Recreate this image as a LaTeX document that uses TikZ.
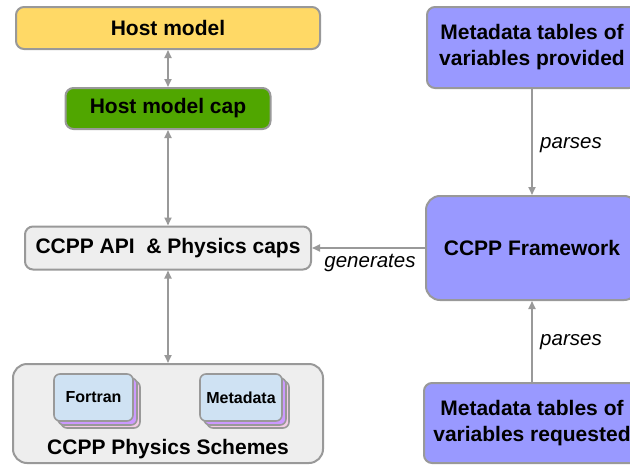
\documentclass[tikz,border=0pt]{standalone}
\usepackage{fontspec}
\setmainfont{Liberation Sans}
\usetikzlibrary{arrows.meta}
\definecolor{bordergray}{HTML}{999999}
\definecolor{hostyellow}{HTML}{FFD966}
\definecolor{capgreen}{RGB}{80,166,0}
\definecolor{fwpurple}{HTML}{9999FF}
\definecolor{boxgray}{HTML}{EEEEEE}
\definecolor{fileblue}{HTML}{CFE2F3}
\definecolor{layerpurple}{HTML}{CC99FF}
\definecolor{layerpink}{HTML}{F4CCE6}
\tikzset{
  box/.style={draw=bordergray, line width=2pt, rounded corners=8pt, align=center,
    font=\fontsize{21}{26}\selectfont\bfseries, inner sep=0pt},
  bigbox/.style={box, rounded corners=14pt},
  filebox/.style={draw=bordergray, line width=1.6pt, rounded corners=6pt, inner sep=0pt,
    font=\fontsize{16}{19}\selectfont\bfseries},
  conn/.style={draw=bordergray, line width=1.7pt, -{Triangle[length=8pt,width=7pt]}},
  biconn/.style={draw=bordergray, line width=1.7pt, {Triangle[length=8pt,width=7pt]}-{Triangle[length=8pt,width=7pt]}},
  edgelabel/.style={font=\fontsize{20.5}{24}\selectfont\itshape, inner sep=0pt}
}
\begin{document}
\begin{tikzpicture}[x=1pt,y=-1pt]
\clip (0,0) rectangle (630,466);
\fill[white] (0,0) rectangle (630,466);
% left column
\node[box, fill=hostyellow, minimum width=304pt, minimum height=42pt] (host) at (168,28) {Host model};
\node[box, fill=capgreen, minimum width=205pt, minimum height=41pt] (cap) at (168,108.5) {Host model cap};
\node[box, fill=boxgray, minimum width=286pt, minimum height=43pt] (api) at (168,248) {CCPP API~~\& Physics caps};
\node[box, rounded corners=14pt, fill=boxgray, minimum width=310pt, minimum height=99pt] (schemes) at (168,413.5) {};
\node[font=\fontsize{21}{24}\selectfont\bfseries, inner sep=0pt] (schemeslabel) at (168,449) {CCPP Physics Schemes};
% file stacks
\node[filebox, fill=layerpink, minimum width=79pt, minimum height=47pt] (fpink) at (100.5,404.5) {};
\node[filebox, fill=layerpurple, minimum width=79pt, minimum height=47pt] (fpurple) at (97.5,401.5) {};
\node[filebox, fill=fileblue, minimum width=79pt, minimum height=47pt] (fortran) at (93.5,397.5) {Fortran};
\node[filebox, fill=layerpink, minimum width=82pt, minimum height=47pt] (mpink) at (248,404.5) {};
\node[filebox, fill=layerpurple, minimum width=82pt, minimum height=47pt] (mpurple) at (245,401.5) {};
\node[filebox, fill=fileblue, minimum width=82pt, minimum height=47pt] (metadata) at (241,397.5) {Metadata};
% right column
\node[box, fill=fwpurple, minimum width=210pt, minimum height=81pt] (provided) at (532,47.5) {Metadata tables of\\variables provided};
\node[bigbox, fill=fwpurple, minimum width=212pt, minimum height=104pt] (framework) at (532,248) {CCPP Framework};
\node[box, fill=fwpurple, minimum width=216pt, minimum height=80pt] (requested) at (532,423) {Metadata tables of\\variables requested};
% connectors
\draw[biconn] (host.south) -- (cap.north);
\draw[biconn] (cap.south) -- (api.north);
\draw[biconn] (api.south) -- (schemes.north);
\draw[conn] (provided.south) -- (framework.north);
\draw[conn] (requested.north) -- (framework.south);
\draw[conn] (framework.west) -- (api.east);
\node[edgelabel] (parses1) at (571,145) {parses};
\node[edgelabel] (parses2) at (571,342) {parses};
\node[edgelabel] (generates) at (370,263) {generates};
\end{tikzpicture}
\end{document}
